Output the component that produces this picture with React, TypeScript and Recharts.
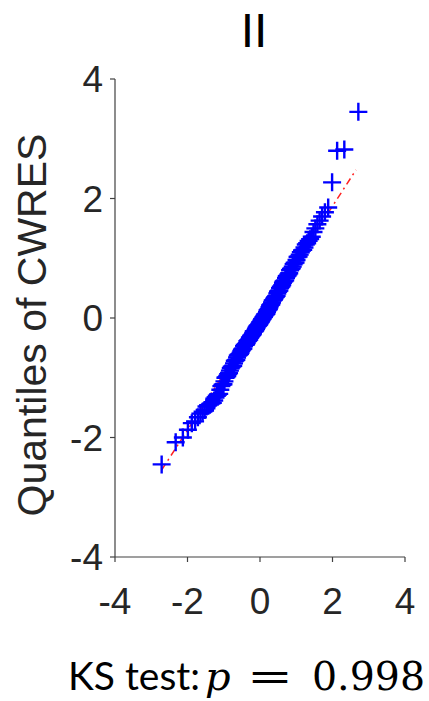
import React from "react";
import { ScatterChart, Scatter, XAxis, YAxis } from "recharts";

// Theoretical normal quantiles (x) and sample quantiles of CWRES (y)
const theoreticalQ: number[] = [
  -2.713, -2.326, -2.128, -1.989, -1.881, -1.791, -1.713, -1.645, -1.583, -1.527,
  -1.476, -1.428, -1.383, -1.341, -1.301, -1.263, -1.227, -1.192, -1.159, -1.126,
  -1.095, -1.065, -1.036, -1.008, -0.981, -0.954, -0.928, -0.903, -0.878, -0.854,
  -0.83, -0.806, -0.783, -0.761, -0.739, -0.717, -0.695, -0.674, -0.653, -0.633,
  -0.613, -0.593, -0.573, -0.553, -0.534, -0.515, -0.496, -0.477, -0.458, -0.44,
  -0.421, -0.403, -0.385, -0.367, -0.349, -0.332, -0.314, -0.297, -0.279, -0.262,
  -0.245, -0.228, -0.21, -0.193, -0.176, -0.16, -0.143, -0.126, -0.109, -0.092,
  -0.075, -0.059, -0.042, -0.025, -0.008, 0.008, 0.025, 0.042, 0.059, 0.075,
  0.092, 0.109, 0.126, 0.143, 0.16, 0.176, 0.193, 0.21, 0.228, 0.245,
  0.262, 0.279, 0.297, 0.314, 0.332, 0.349, 0.367, 0.385, 0.403, 0.421,
  0.44, 0.458, 0.477, 0.496, 0.515, 0.534, 0.553, 0.573, 0.593, 0.613,
  0.633, 0.653, 0.674, 0.695, 0.717, 0.739, 0.761, 0.783, 0.806, 0.83,
  0.854, 0.878, 0.903, 0.928, 0.954, 0.981, 1.008, 1.036, 1.065, 1.095,
  1.126, 1.159, 1.192, 1.227, 1.263, 1.301, 1.341, 1.383, 1.428, 1.476,
  1.527, 1.583, 1.645, 1.713, 1.791, 1.881, 1.989, 2.128, 2.326, 2.713,
];

const sampleQ: number[] = [
  -2.45, -2.08, -2.0, -1.87, -1.76, -1.73, -1.66, -1.6, -1.57, -1.54,
  -1.48, -1.46, -1.45, -1.43, -1.42, -1.38, -1.33, -1.3, -1.28, -1.27,
  -1.2, -1.14, -1.12, -1.11, -1.06, -1.0, -0.99, -0.97, -0.94, -0.92,
  -0.88, -0.84, -0.82, -0.81, -0.8, -0.76, -0.72, -0.71, -0.7, -0.66,
  -0.63, -0.62, -0.61, -0.6, -0.58, -0.55, -0.53, -0.52, -0.51, -0.47,
  -0.45, -0.45, -0.44, -0.42, -0.39, -0.38, -0.37, -0.36, -0.33, -0.32,
  -0.3, -0.29, -0.28, -0.26, -0.23, -0.22, -0.22, -0.2, -0.18, -0.16,
  -0.14, -0.13, -0.12, -0.11, -0.09, -0.07, -0.06, -0.04, -0.02, -0.01,
  0.01, 0.02, 0.04, 0.06, 0.06, 0.07, 0.1, 0.13, 0.14, 0.15,
  0.18, 0.21, 0.22, 0.23, 0.26, 0.29, 0.3, 0.31, 0.33, 0.35,
  0.36, 0.37, 0.41, 0.44, 0.45, 0.46, 0.5, 0.52, 0.53, 0.55,
  0.59, 0.61, 0.62, 0.63, 0.67, 0.7, 0.71, 0.73, 0.75, 0.8,
  0.82, 0.83, 0.86, 0.9, 0.92, 0.93, 0.97, 1.02, 1.03, 1.06,
  1.1, 1.13, 1.14, 1.18, 1.23, 1.25, 1.29, 1.32, 1.36, 1.44,
  1.5, 1.57, 1.63, 1.7, 1.77, 1.85, 2.27, 2.8, 2.82, 3.45,
];

// Reference (fit) line endpoints
const fitX: number[] = [-2.71, 2.65];
const fitY: number[] = [-2.54, 2.48];

const axisTicks: number[] = [-4, -2, 0, 2, 4];

const points = theoreticalQ.map((x, i) => ({ x, y: sampleQ[i] }));
const fitLine = fitX.map((x, i) => ({ x, y: fitY[i] }));

const PlusShape = (props: any) => {
  const { cx, cy } = props;
  if (cx == null || cy == null) return <g />;
  const h = 9;
  return (
    <path
      d={`M${cx - h},${cy}H${cx + h}M${cx},${cy - h}V${cy + h}`}
      stroke="#0000ff"
      strokeWidth={2.4}
      fill="none"
    />
  );
};

const NoShape = () => <g />;

const tickStyle = {
  fontFamily: "'Liberation Sans', Arial, sans-serif",
  fontSize: 37,
  fill: "#262626",
};

const YLabel = () => (
  <text
    x={46}
    y={325}
    transform="rotate(-90, 46, 325)"
    textAnchor="middle"
    fontFamily="'Liberation Sans', Arial, sans-serif"
    fontSize={41}
    fill="#262626"
  >
    Quantiles of CWRES
  </text>
);

export default function App() {
  return (
    <div style={{ position: "absolute", left: 0, top: 0, width: 429, height: 701, background: "#fff" }}>
      <ScatterChart
        width={429}
        height={701}
        margin={{ top: 79, right: 24, bottom: 84, left: 0 }}
      >
        <XAxis
          type="number"
          dataKey="x"
          domain={[-4, 4]}
          ticks={axisTicks}
          allowDataOverflow
          height={60}
          tickSize={5}
          tickMargin={26}
          tick={tickStyle}
          axisLine={{ stroke: "#404040", strokeWidth: 1.2 }}
          tickLine={{ stroke: "#404040", strokeWidth: 1.2 }}
        />
        <YAxis
          type="number"
          dataKey="y"
          domain={[-4, 4]}
          ticks={axisTicks}
          allowDataOverflow
          width={115}
          tickSize={5}
          tickMargin={7}
          tick={tickStyle}
          axisLine={{ stroke: "#404040", strokeWidth: 1.2 }}
          tickLine={{ stroke: "#404040", strokeWidth: 1.2 }}
          label={<YLabel />}
        />
        <Scatter
          data={fitLine}
          shape={NoShape}
          line={{ stroke: "#ff2020", strokeWidth: 1.5, strokeDasharray: "7 4 2 4" }}
          isAnimationActive={false}
        />
        <Scatter data={points} shape={PlusShape} isAnimationActive={false} />
      </ScatterChart>
      <svg
        width={429}
        height={701}
        style={{ position: "absolute", left: 0, top: 0, pointerEvents: "none" }}
      >
        <text
          x={254}
          y={47}
          textAnchor="middle"
          fontFamily="'Liberation Sans', Arial, sans-serif"
          fontSize={48}
          fill="#000"
        >
          II
        </text>
        <text x={68} y={690} fontFamily="Lato, 'Open Sans', sans-serif" fontSize={38} fill="#000" textLength={132} lengthAdjust="spacingAndGlyphs">
          KS test:
        </text>
        <text x={205} y={690} fontFamily="'DejaVu Serif', serif" fontStyle="italic" fontSize={40} fill="#000">
          p
        </text>
        <text x={247} y={690} fontFamily="'DejaVu Serif', serif" fontSize={40} fill="#000" textLength={46} lengthAdjust="spacingAndGlyphs">
          =
        </text>
        <text x={312} y={690} fontFamily="'DejaVu Serif', serif" fontSize={40} fill="#000" textLength={113} lengthAdjust="spacingAndGlyphs">
          0.998
        </text>
      </svg>
    </div>
  );
}
